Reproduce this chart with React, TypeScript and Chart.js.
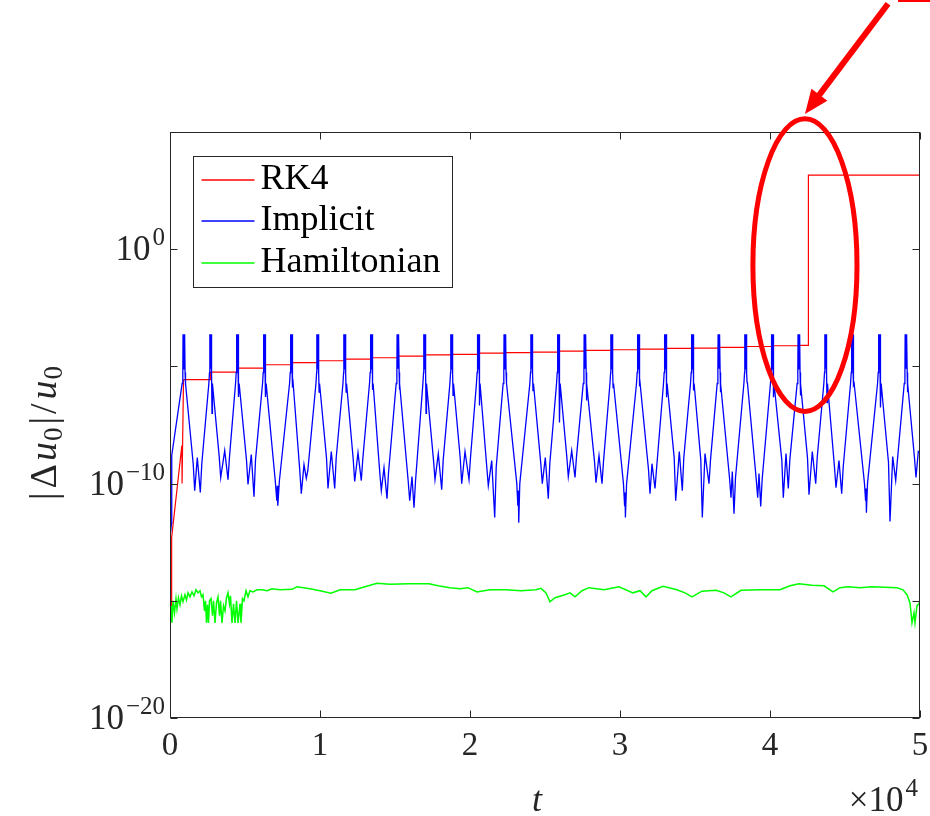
import React, { useEffect, useRef } from 'react';
import { Chart, registerables } from 'chart.js';

Chart.register(...registerables);

// ---------------- axes ----------------
const xMin = 0;
const xMax = 50000;
const yMin = 1e-20;
const yMax = 1e5;
const xTickValues = [0, 10000, 20000, 30000, 40000, 50000];
const xTickLabels = ['0', '1', '2', '3', '4', '5'];
const yTickExponents = [-20, -15, -10, -5, 0, 5];
const yLabelExponents = [0, -10, -20];
const yLabelTexts = ['0', '\u221210', '\u221220'];
const xAxisTitle = 't';
const xAxisMultiplierExp = '4';

// ---------------- RK4 (log10 values) ----------------
const rk4StartT = [0, 100, 110, 790, 805, 900];
const rk4StartLog = [-15.7, -15.3, -12.3, -8.38, -10.0, -5.56];
const rk4StepT = [900, 2710, 4490, 6290, 8090, 9850, 11650, 13420, 15200, 16980, 18780, 20550, 22330, 24110, 25890, 27670, 29450, 31220, 33020, 34820, 36600, 38380, 40150, 41930, 42560, 50000];
const rk4StepLog = [-5.56, -5.24, -5.07, -4.93, -4.84, -4.76, -4.69, -4.63, -4.56, -4.51, -4.49, -4.43, -4.41, -4.39, -4.35, -4.32, -4.29, -4.26, -4.23, -4.22, -4.19, -4.15, -4.12, -4.1, 3.16, 3.16];

// ---------------- Implicit (log10 values) ----------------
const implicitLeadT = [0, 100, 115];
const implicitLeadLog = [-12.3, -11.7, -8.8];
const implicitSpikeT = [930, 2710, 4490, 6290, 8090, 9850, 11650, 13420, 15200, 16980, 18780, 20550, 22330, 24110, 25890, 27670, 29450, 31220, 33020, 34820, 36600, 38380, 40150, 41930, 43710, 45490, 47290, 49070];
const implicitSpikeDip = [-5.8, -7.0, -6.3, -6.3, -5.9, -6.1, -6.1, -6.0, -6.0, -7.0, -6.24, -6.67, -5.68, -6.03, -7.39, -6.45, -5.9, -5.85, -6.32, -6.03, -6.1, -5.68, -6.32, -6.24, -6.54, -5.8, -6.75, -6.1];
// shape of the fast oscillation burst around each spike time (offset in t, log10 value; NaN = that spike's dip)
const implicitBurstDT = [-120, -75, -60, -45, -30, -15, 0, 15, 30, 45, 60, 75, 90, 120];
const implicitBurstLog = [-5.73, -5.26, -3.63, -5.1, -3.63, -5.1, -3.63, -5.1, -3.63, -5.1, -3.63, -5.26, NaN, -5.73];
// troughs between consecutive spikes: [pre, cusp, arch, cusp, post]
const implicitGapT = [
  [1547, 1647, 1820, 2020, 2120],
  [3280, 3380, 3647, 3867, 3967],
  [5100, 5200, 5420, 5600, 5700],
  [7020, 7120, 7153, 7187, 7290],
  [8653, 8753, 8933, 9087, 9187],
  [10433, 10533, 10753, 10980, 11080],
  [12213, 12313, 12533, 12753, 12853],
  [13987, 14087, 14267, 14467, 14567],
  [15880, 15980, 16133, 16267, 16367],
  [17567, 17667, 17887, 18113, 18213],
  [19347, 19447, 19667, 19933, 20033],
  [21120, 21220, 21447, 21647, 21747],
  [23120, 23190, 23220, 23250, 23320],
  [24720, 24820, 25020, 25220, 25320],
  [26453, 26553, 26780, 27000, 27100],
  [28300, 28400, 28600, 28800, 28900],
  [30230, 30307, 30333, 30360, 30440],
  [31900, 32000, 32133, 32333, 32433],
  [33613, 33713, 33953, 34153, 34253],
  [35387, 35487, 35667, 35933, 36033],
  [37300, 37400, 37487, 37600, 37700],
  [39080, 39180, 39267, 39380, 39480],
  [40787, 40887, 41067, 41220, 41320],
  [42500, 42600, 42820, 43047, 43147],
  [44300, 44400, 44600, 44780, 44880],
  [46300, 46373, 46400, 46427, 46500],
  [47900, 48000, 48180, 48380, 48480],
];
const implicitGapLog = [
  [-9.15, -10.3, -8.89, -10.38, -9.15],
  [-8.85, -9.74, -8.59, -9.83, -8.85],
  [-9.0, -10.04, -8.76, -10.56, -9.0],
  [-9.9, -10.73, -10.09, -10.94, -9.9],
  [-9.45, -10.43, -9.19, -9.78, -9.45],
  [-8.9, -10.21, -8.63, -10.21, -8.9],
  [-8.95, -9.91, -8.68, -9.87, -8.95],
  [-9.55, -10.3, -9.32, -10.64, -9.55],
  [-9.9, -10.73, -9.7, -11.03, -9.9],
  [-9.0, -9.83, -8.72, -10.26, -9.0],
  [-8.9, -10.0, -8.63, -9.83, -8.9],
  [-9.3, -10.09, -9.02, -11.45, -9.3],
  [-10.0, -10.94, -10.3, -11.67, -10.0],
  [-9.15, -10.0, -8.89, -10.64, -9.15],
  [-8.85, -9.7, -8.59, -9.74, -8.85],
  [-9.05, -9.96, -8.8, -10.0, -9.05],
  [-10.0, -10.94, -10.38, -11.45, -10.0],
  [-9.4, -10.43, -9.15, -10.21, -9.4],
  [-8.9, -10.73, -8.63, -10.3, -8.9],
  [-9.0, -11.45, -8.72, -10.0, -9.0],
  [-9.75, -10.6, -9.49, -11.28, -9.75],
  [-9.8, -10.6, -9.57, -10.98, -9.8],
  [-9.0, -10.6, -8.72, -10.21, -9.0],
  [-8.9, -10.47, -8.63, -10.0, -8.9],
  [-9.3, -10.17, -9.02, -10.43, -9.3],
  [-10.0, -10.73, -10.21, -11.24, -10.0],
  [-9.1, -11.62, -8.85, -9.87, -9.1],
];
const implicitTailT = [49633, 49733, 49887, 50000];
const implicitTailLog = [-8.9, -9.74, -8.63, -8.68];

// ---------------- Hamiltonian (log10 values) ----------------
const hamT = [33, 67, 133, 200, 300, 400, 467, 567, 667, 767, 867, 1000, 1100, 1200, 1333, 1467, 1600, 1733, 1867, 2000, 2100, 2200, 2300, 2367, 2433, 2500, 2567, 2633, 2733, 2833, 2900, 3000, 3100, 3200, 3300, 3367, 3467, 3567, 3667, 3767, 3867, 3967, 4033, 4133, 4233, 4333, 4433, 4533, 4667, 4733, 4833, 4933, 5067, 5200, 5333, 5533, 5800, 6133, 6467, 6800, 7333, 8133, 8467, 9333, 10000, 10733, 11333, 12333, 13000, 13800, 14667, 15933, 17267, 17867, 18667, 19333, 19867, 20467, 21333, 22400, 23400, 24400, 24733, 25067, 25333, 25667, 26333, 26667, 27000, 27467, 27933, 28933, 29933, 30867, 31333, 31733, 32133, 32867, 33800, 34333, 34800, 35467, 36400, 36933, 37400, 38067, 39333, 40667, 41333, 41933, 42800, 43600, 44200, 44667, 45200, 46000, 46800, 47667, 48467, 48867, 49133, 49333, 49467, 49600, 49667, 49800, 49933, 50000];
const hamLog = [-15.85, -15.21, -15.94, -15.0, -15.51, -14.91, -15.34, -14.87, -15.17, -14.79, -15.04, -14.74, -14.96, -14.66, -14.83, -14.62, -14.79, -14.53, -14.66, -14.57, -14.83, -14.74, -15.43, -15.0, -15.94, -15.17, -15.94, -15.0, -14.91, -15.64, -15.0, -15.94, -15.09, -14.83, -15.64, -15.0, -15.94, -15.21, -15.43, -14.87, -14.66, -15.13, -14.79, -15.94, -15.13, -15.94, -15.0, -15.94, -15.13, -15.94, -14.91, -15.0, -14.57, -14.83, -14.57, -14.62, -14.53, -14.53, -14.57, -14.49, -14.53, -14.51, -14.4, -14.49, -14.57, -14.68, -14.53, -14.53, -14.4, -14.25, -14.29, -14.27, -14.27, -14.36, -14.44, -14.49, -14.44, -14.62, -14.53, -14.53, -14.57, -14.53, -14.47, -14.66, -15.04, -14.87, -14.74, -14.66, -14.83, -14.57, -14.44, -14.53, -14.4, -14.66, -14.57, -14.83, -14.57, -14.38, -14.53, -14.66, -14.83, -14.59, -14.55, -14.66, -14.83, -14.55, -14.53, -14.53, -14.36, -14.27, -14.34, -14.36, -14.62, -14.44, -14.4, -14.44, -14.4, -14.42, -14.44, -14.53, -14.74, -15.09, -15.94, -15.51, -15.94, -15.21, -15.13, -15.0];

// ---------------- annotation (data units) ----------------
const ringCenterT = 42330;
const ringCenterLog = -0.68;
const ringHalfT = 3470;
const ringHalfDecades = 6.24;
const arrowTailT = 47870;
const arrowTailLog = 10.47;
const arrowTipT = 42330;
const arrowTipLog = 5.77;

const seriesNames = ['RK4', 'Implicit', 'Hamiltonian'];
const seriesColors = ['#ff0000', '#0000ff', '#00ff00'];

const AXIS = '#262626';
const SERIF = '"Liberation Serif", "Times New Roman", serif';

type P = { x: number; y: number };
const pts = (ts: number[], logs: number[]): P[] => ts.map((t, i) => ({ x: t, y: Math.pow(10, logs[i]) }));

function buildImplicit(): P[] {
  const out: P[] = pts(implicitLeadT, implicitLeadLog);
  implicitSpikeT.forEach((ts, k) => {
    implicitBurstDT.forEach((dt, j) => {
      const v = isNaN(implicitBurstLog[j]) ? implicitSpikeDip[k] : implicitBurstLog[j];
      out.push({ x: ts + dt, y: Math.pow(10, v) });
    });
    if (k < implicitGapT.length) out.push(...pts(implicitGapT[k], implicitGapLog[k]));
  });
  out.push(...pts(implicitTailT, implicitTailLog));
  return out;
}

function drawPow10(ctx: CanvasRenderingContext2D, exp: string, right: number, baseline: number, size: number, supSize: number, supRise: number) {
  ctx.font = `${supSize}px ${SERIF}`;
  const wSup = ctx.measureText(exp).width;
  ctx.font = `${size}px ${SERIF}`;
  const wBase = ctx.measureText('10').width;
  const x0 = right - wSup - wBase - 2;
  ctx.textAlign = 'left';
  ctx.textBaseline = 'alphabetic';
  ctx.fillText('10', x0, baseline);
  ctx.font = `${supSize}px ${SERIF}`;
  ctx.fillText(exp, x0 + wBase + 2, baseline - supRise);
}

const framePlugin = {
  id: 'frame',
  afterDatasetsDraw(chart: any) {
    const { ctx, chartArea: a, scales } = chart;
    const xs = scales.x;
    const ys = scales.y;
    ctx.save();
    // box
    ctx.strokeStyle = AXIS;
    ctx.lineWidth = 1;
    const L = Math.round(a.left) + 0.5;
    const R = Math.round(a.right) - 0.5;
    const T = Math.round(a.top) + 0.5;
    const B = Math.round(a.bottom) - 0.5;
    ctx.strokeRect(L, T, R - L, B - T);
    // ticks (inward)
    const tl = 7;
    ctx.beginPath();
    xTickValues.forEach((v) => {
      const px = Math.round(xs.getPixelForValue(v)) + 0.5;
      ctx.moveTo(px, B); ctx.lineTo(px, B - tl);
      ctx.moveTo(px, T); ctx.lineTo(px, T + tl);
    });
    yTickExponents.forEach((e) => {
      const py = Math.round(ys.getPixelForValue(Math.pow(10, e))) + 0.5;
      ctx.moveTo(L, py); ctx.lineTo(L + tl, py);
      ctx.moveTo(R, py); ctx.lineTo(R - tl, py);
    });
    ctx.stroke();

    // x tick labels
    ctx.fillStyle = AXIS;
    ctx.font = `33px ${SERIF}`;
    ctx.textAlign = 'center';
    ctx.textBaseline = 'alphabetic';
    xTickValues.forEach((v, i) => {
      ctx.fillText(xTickLabels[i], xs.getPixelForValue(v), a.bottom + 37);
    });
    // y tick labels
    yLabelExponents.forEach((e, i) => {
      const py = ys.getPixelForValue(Math.pow(10, e));
      drawPow10(ctx, yLabelTexts[i], a.left - 5, py + 11, 35, 25, 15);
    });
    // x title
    ctx.font = `italic 36px ${SERIF}`;
    ctx.textAlign = 'center';
    ctx.fillText(xAxisTitle, (a.left + a.right) / 2 - 8, a.bottom + 93);
    // multiplier x10^4
    ctx.font = `25px ${SERIF}`;
    const wSup = ctx.measureText(xAxisMultiplierExp).width;
    ctx.font = `35px ${SERIF}`;
    const wMain = ctx.measureText('\u00d710').width;
    const mx = a.right - 4 - wSup - wMain;
    ctx.textAlign = 'left';
    ctx.fillText('\u00d710', mx, a.bottom + 93);
    ctx.font = `25px ${SERIF}`;
    ctx.fillText(xAxisMultiplierExp, mx + wMain + 2, a.bottom + 78);

    // y title: |Δu0|/u0
    ctx.save();
    ctx.translate(56, (a.top + a.bottom) / 2 + 8);
    ctx.rotate(-Math.PI / 2);
    const parts: [string, string, number, number][] = [
      ['|', `38px ${SERIF}`, 0, 4],
      ['\u0394', `38px ${SERIF}`, 0, 3],
      ['u', `italic 38px ${SERIF}`, 0, 1],
      ['0', `27px ${SERIF}`, 6, 3],
      ['|', `38px ${SERIF}`, 0, 3],
      ['/', `38px ${SERIF}`, 0, 4],
      ['u', `italic 38px ${SERIF}`, 0, 1],
      ['0', `27px ${SERIF}`, 6, 0],
    ];
    let total = 0;
    const widths = parts.map(([s, f, , g]) => { ctx.font = f; const w = ctx.measureText(s).width + g; total += w; return w; });
    let cx = -total / 2;
    ctx.textAlign = 'left';
    parts.forEach(([s, f, dy], i) => {
      ctx.font = f;
      ctx.fillText(s, cx, dy);
      cx += widths[i];
    });
    ctx.restore();

    // legend
    const lx = a.left + 23.5, ly = a.top + 24.5, lw = 259, lh = 131;
    ctx.fillStyle = '#ffffff';
    ctx.fillRect(lx, ly, lw, lh);
    ctx.strokeStyle = AXIS;
    ctx.lineWidth = 1;
    ctx.strokeRect(lx, ly, lw, lh);
    ctx.font = `36px ${SERIF}`;
    ctx.textAlign = 'left';
    seriesNames.forEach((name, i) => {
      const yy = Math.round(ly + 23 + i * 41.5);
      ctx.strokeStyle = seriesColors[i];
      ctx.lineWidth = 1.6;
      ctx.beginPath();
      ctx.moveTo(lx + 8, yy);
      ctx.lineTo(lx + 61, yy);
      ctx.stroke();
      ctx.fillStyle = '#000000';
      ctx.fillText(name, lx + 67, yy + 9);
    });
    ctx.restore();
  },
  afterDraw(chart: any) {
    const { ctx, scales } = chart;
    const xs = scales.x;
    const ys = scales.y;
    ctx.save();
    ctx.strokeStyle = '#ff0000';
    ctx.fillStyle = '#ff0000';
    // ellipse
    const cx = xs.getPixelForValue(ringCenterT);
    const cy = ys.getPixelForValue(Math.pow(10, ringCenterLog));
    const rx = xs.getPixelForValue(ringCenterT + ringHalfT) - cx;
    const ry = cy - ys.getPixelForValue(Math.pow(10, ringCenterLog + ringHalfDecades));
    ctx.lineWidth = 5;
    ctx.beginPath();
    ctx.ellipse(cx, cy, rx, ry, 0, 0, Math.PI * 2);
    ctx.stroke();
    // arrow
    const x1 = xs.getPixelForValue(arrowTailT);
    const y1 = ys.getPixelForValue(Math.pow(10, arrowTailLog));
    const x2 = xs.getPixelForValue(arrowTipT);
    const y2 = ys.getPixelForValue(Math.pow(10, arrowTipLog));
    const ang = Math.atan2(y2 - y1, x2 - x1);
    const hl = 24, hw = 10;
    const bx = x2 - hl * Math.cos(ang);
    const by = y2 - hl * Math.sin(ang);
    ctx.lineWidth = 6;
    ctx.beginPath();
    ctx.moveTo(x1, y1);
    ctx.lineTo(bx + 2 * Math.cos(ang), by + 2 * Math.sin(ang));
    ctx.stroke();
    ctx.beginPath();
    ctx.moveTo(x2, y2);
    ctx.lineTo(bx + hw * Math.sin(ang), by - hw * Math.cos(ang));
    ctx.lineTo(bx - hw * Math.sin(ang), by + hw * Math.cos(ang));
    ctx.closePath();
    ctx.fill();
    // fragment of another box at the top-right edge
    ctx.fillRect(898, 0, 32, 2);
    ctx.restore();
  },
};

export default function App() {
  const ref = useRef<HTMLCanvasElement | null>(null);
  useEffect(() => {
    if (!ref.current) return;
    const chart = new Chart(ref.current, {
      type: 'line',
      data: {
        datasets: [
          { label: seriesNames[0], data: pts(rk4StepT, rk4StepLog), borderColor: seriesColors[0], borderWidth: 1.2, pointRadius: 0, stepped: true, fill: false, order: 3 },
          { label: seriesNames[0] + ' start', data: pts(rk4StartT, rk4StartLog), borderColor: seriesColors[0], borderWidth: 1.2, pointRadius: 0, fill: false, order: 3 },
          { label: seriesNames[1], data: buildImplicit(), borderColor: seriesColors[1], borderWidth: 1.3, pointRadius: 0, fill: false, order: 2 },
          { label: seriesNames[2], data: pts(hamT, hamLog), borderColor: seriesColors[2], borderWidth: 1.5, pointRadius: 0, fill: false, order: 1 },
        ] as any,
      },
      options: {
        animation: false,
        responsive: false,
        events: [],
        layout: { padding: { left: 170, right: 10, top: 132, bottom: 98 } },
        elements: { line: { tension: 0 } },
        scales: {
          x: { type: 'linear', min: xMin, max: xMax, display: false },
          y: { type: 'logarithmic', min: yMin, max: yMax, display: false },
        },
        plugins: { legend: { display: false }, tooltip: { enabled: false } },
      } as any,
      plugins: [framePlugin],
    });
    return () => chart.destroy();
  }, []);
  return (
    <div style={{ position: 'fixed', left: 0, top: 0, width: 930, height: 816, background: '#ffffff' }}>
      <canvas ref={ref} width={930} height={816} style={{ display: 'block' }} />
    </div>
  );
}
